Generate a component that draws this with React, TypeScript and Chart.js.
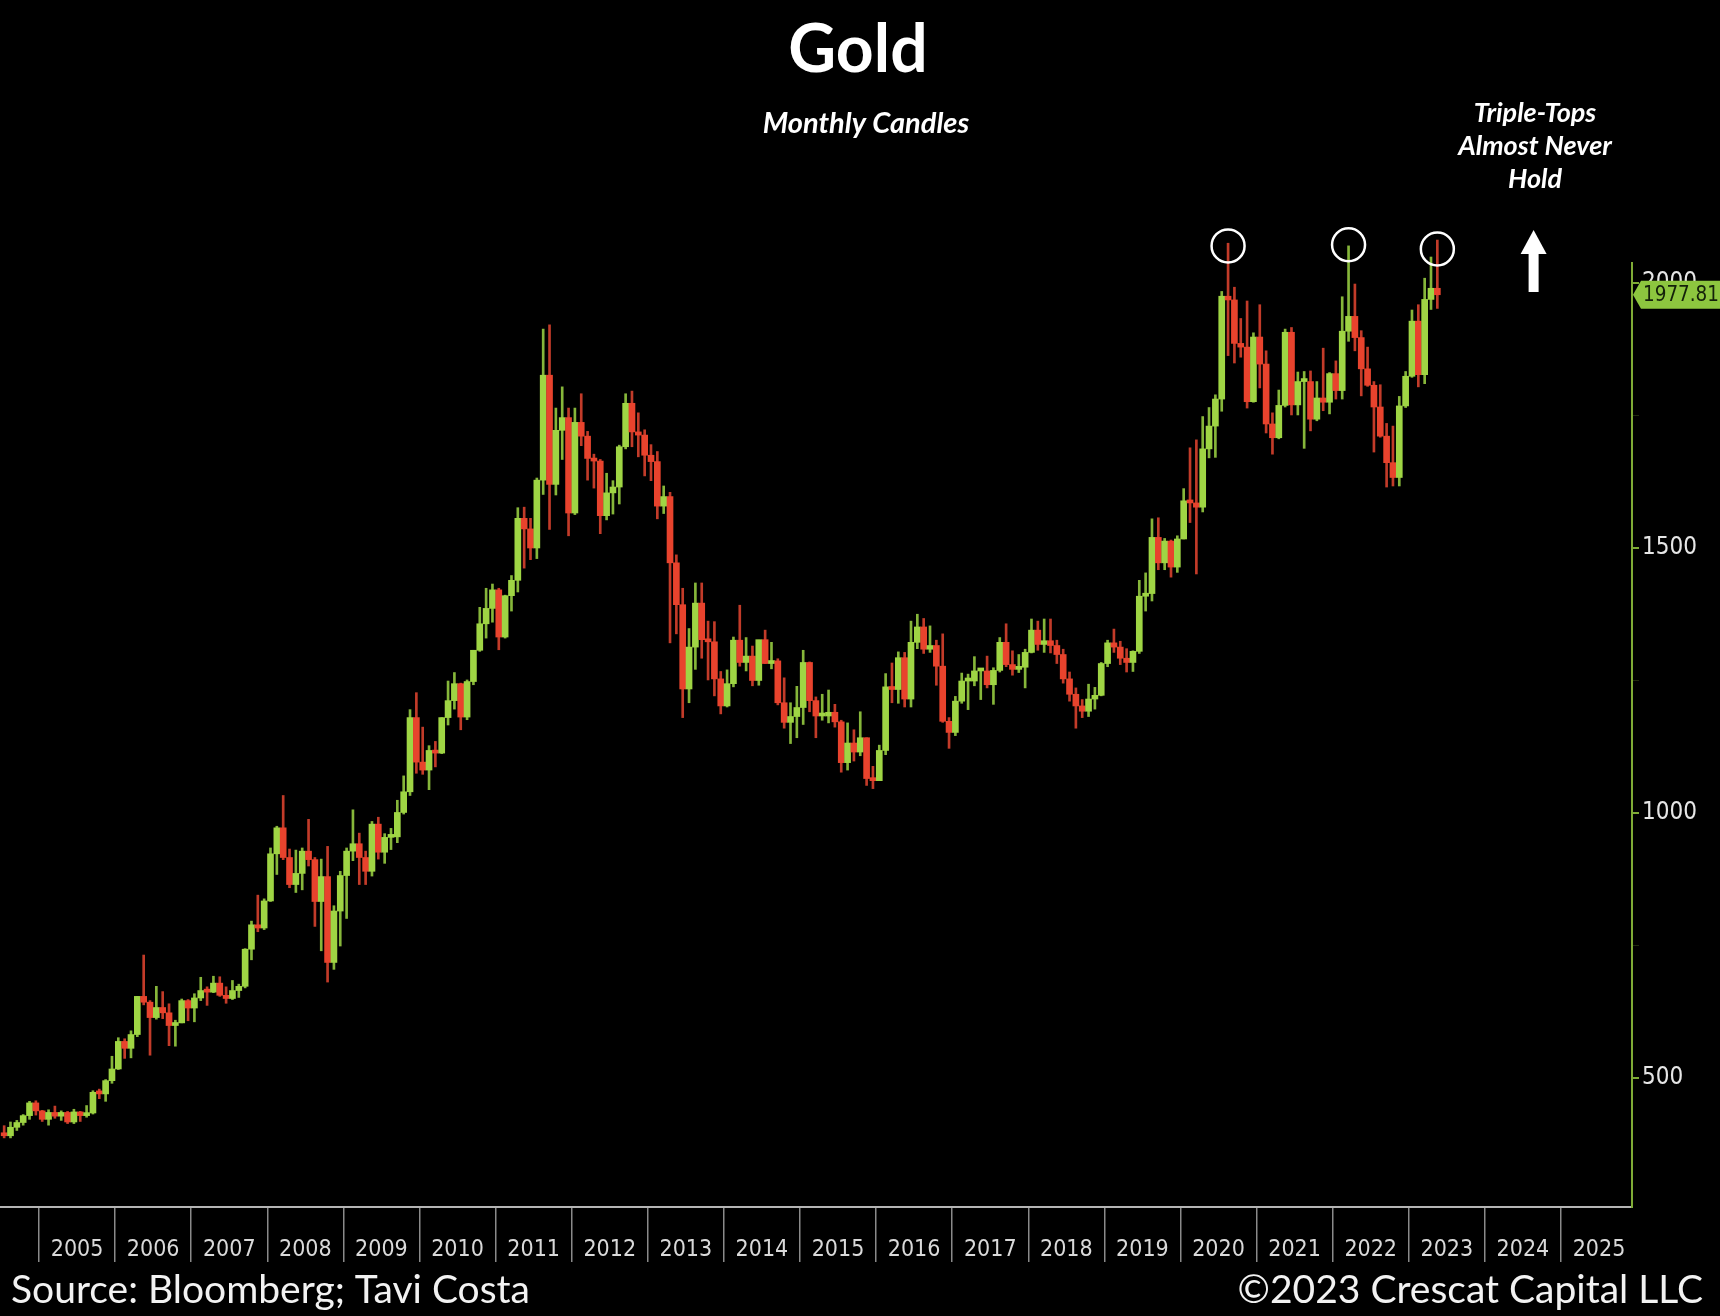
// Gold monthly candles with chart.js
import { useEffect, useRef } from 'react';
import { Chart, registerables } from 'chart.js';

Chart.register(...registerables);

// ============= DATA =============
// monthly candles, Jul 2004 .. May 2023
const FIRST_YEAR = 2004;
const FIRST_MONTH = 7;

const opens = [
    395, 391, 407, 416, 429, 453,
    438, 422, 435, 428, 435, 417, 436, 429, 434, 473, 470, 495,
    517, 569, 556, 582, 654, 643, 614, 633, 623, 599, 604, 646,
    632, 651, 665, 662, 679, 656, 650, 665, 673, 743, 789, 783,
    834, 923, 972, 916, 865, 886, 928, 912, 833, 880, 718, 815,
    882, 928, 942, 916, 890, 979, 926, 954, 955, 1001, 1040, 1180,
    1096, 1081, 1118, 1113, 1180, 1212, 1244, 1181, 1248, 1307, 1357, 1386,
    1421, 1332, 1410, 1439, 1556, 1536, 1500, 1628, 1826, 1620, 1722, 1746,
    1566, 1737, 1711, 1669, 1664, 1561, 1604, 1615, 1691, 1773, 1719, 1713,
    1675, 1663, 1579, 1597, 1472, 1393, 1234, 1313, 1396, 1327, 1323, 1253,
    1202, 1244, 1326, 1284, 1296, 1250, 1327, 1282, 1287, 1208, 1171, 1182,
    1199, 1284, 1212, 1183, 1183, 1190, 1172, 1095, 1132, 1115, 1142, 1065,
    1061, 1118, 1238, 1233, 1293, 1215, 1322, 1351, 1309, 1316, 1277, 1173,
    1152, 1211, 1249, 1249, 1268, 1268, 1242, 1269, 1322, 1280, 1271, 1275,
    1303, 1345, 1318, 1325, 1316, 1299, 1253, 1224, 1202, 1192, 1215, 1222,
    1282, 1321, 1313, 1292, 1284, 1305, 1409, 1414, 1520, 1472, 1513, 1464,
    1517, 1589, 1585, 1577, 1687, 1730, 1781, 1975, 1968, 1886, 1879, 1776,
    1898, 1847, 1734, 1708, 1769, 1907, 1770, 1814, 1814, 1743, 1783, 1775,
    1829, 1797, 1909, 1937, 1897, 1838, 1807, 1766, 1711, 1661, 1633, 1768,
    1824, 1928, 1827, 1969, 1990,
];

const highs = [
    410, 417, 420, 431, 456, 457,
    439, 440, 447, 438, 437, 441, 437, 448, 476, 479, 497, 541,
    576, 574, 589, 654, 732, 646, 673, 663, 640, 609, 649, 648,
    659, 690, 672, 692, 691, 672, 684, 677, 744, 796, 845, 838,
    934, 975, 1033, 932, 930, 934, 988, 916, 913, 937, 825, 890,
    934, 1006, 962, 928, 984, 992, 961, 971, 1024, 1070, 1195, 1227,
    1162, 1127, 1135, 1180, 1249, 1265, 1245, 1251, 1307, 1388, 1424, 1432,
    1424, 1411, 1448, 1576, 1577, 1556, 1632, 1913, 1921, 1764, 1804, 1764,
    1764, 1791, 1720, 1677, 1667, 1641, 1627, 1694, 1791, 1796, 1755, 1723,
    1695, 1682, 1617, 1605, 1487, 1424, 1348, 1434, 1434, 1362, 1361, 1267,
    1270, 1332, 1392, 1331, 1315, 1326, 1345, 1322, 1291, 1255, 1208, 1239,
    1307, 1285, 1219, 1224, 1232, 1205, 1175, 1170, 1157, 1191, 1142, 1088,
    1128, 1263, 1283, 1304, 1303, 1362, 1375, 1367, 1353, 1326, 1338, 1180,
    1220, 1264, 1262, 1295, 1270, 1296, 1274, 1331, 1357, 1306, 1299, 1309,
    1366, 1362, 1366, 1366, 1326, 1309, 1266, 1236, 1214, 1243, 1237, 1284,
    1326, 1347, 1324, 1310, 1306, 1439, 1453, 1555, 1557, 1518, 1515, 1523,
    1612, 1689, 1704, 1748, 1765, 1789, 1984, 2075, 1992, 1933, 1966, 1906,
    1959, 1872, 1755, 1798, 1913, 1916, 1832, 1833, 1834, 1814, 1877, 1831,
    1853, 1974, 2070, 1998, 1910, 1879, 1814, 1808, 1735, 1730, 1786, 1833,
    1949, 1959, 2009, 2049, 2081,
];

const lows = [
    387, 387, 401, 411, 422, 430,
    418, 411, 424, 420, 414, 414, 418, 426, 432, 461, 456, 490,
    516, 537, 538, 578, 638, 543, 611, 612, 561, 560, 604, 608,
    606, 646, 637, 661, 654, 641, 648, 652, 670, 723, 776, 780,
    833, 884, 912, 859, 850, 855, 900, 786, 740, 681, 705, 749,
    801, 910, 865, 865, 881, 913, 905, 931, 944, 998, 1033, 1075,
    1073, 1044, 1087, 1112, 1166, 1196, 1157, 1176, 1242, 1305, 1330, 1360,
    1308, 1330, 1381, 1417, 1462, 1478, 1480, 1601, 1535, 1600, 1667, 1523,
    1563, 1693, 1628, 1613, 1527, 1553, 1564, 1583, 1687, 1691, 1672, 1636,
    1627, 1555, 1565, 1321, 1338, 1180, 1208, 1271, 1292, 1251, 1221, 1187,
    1200, 1238, 1277, 1268, 1240, 1241, 1282, 1272, 1204, 1160, 1131, 1142,
    1167, 1191, 1142, 1175, 1170, 1162, 1077, 1081, 1098, 1108, 1052, 1046,
    1061, 1110, 1208, 1207, 1200, 1200, 1310, 1301, 1303, 1241, 1171, 1122,
    1146, 1207, 1195, 1240, 1214, 1236, 1205, 1266, 1276, 1260, 1265, 1236,
    1302, 1307, 1303, 1302, 1282, 1245, 1211, 1160, 1180, 1182, 1196, 1221,
    1276, 1303, 1280, 1266, 1267, 1301, 1381, 1400, 1459, 1459, 1445, 1454,
    1517, 1548, 1451, 1568, 1670, 1671, 1758, 1863, 1849, 1860, 1764, 1775,
    1802, 1717, 1677, 1706, 1766, 1751, 1751, 1688, 1721, 1740, 1759, 1753,
    1781, 1781, 1890, 1872, 1787, 1805, 1681, 1709, 1615, 1617, 1617, 1765,
    1822, 1804, 1810, 1950, 1952,
];

const closes = [
    391, 407, 416, 429, 453, 438,
    422, 435, 428, 435, 417, 436, 429, 434, 473, 470, 495, 517,
    569, 556, 582, 654, 643, 614, 633, 623, 599, 604, 646, 632,
    651, 665, 662, 679, 656, 650, 665, 673, 743, 789, 783, 834,
    923, 972, 916, 865, 886, 928, 912, 833, 880, 718, 815, 882,
    928, 942, 916, 890, 979, 926, 954, 955, 1001, 1040, 1180, 1096,
    1081, 1118, 1113, 1180, 1212, 1244, 1181, 1248, 1307, 1357, 1386, 1421,
    1332, 1410, 1439, 1556, 1536, 1500, 1628, 1826, 1620, 1722, 1746, 1566,
    1737, 1711, 1669, 1664, 1561, 1604, 1615, 1691, 1773, 1719, 1713, 1675,
    1663, 1579, 1597, 1472, 1393, 1234, 1313, 1396, 1327, 1323, 1253, 1202,
    1244, 1326, 1284, 1296, 1250, 1327, 1282, 1287, 1208, 1171, 1182, 1199,
    1284, 1212, 1183, 1183, 1190, 1172, 1095, 1132, 1115, 1142, 1065, 1061,
    1118, 1238, 1233, 1293, 1215, 1322, 1351, 1309, 1316, 1277, 1173, 1152,
    1211, 1249, 1249, 1268, 1268, 1242, 1269, 1322, 1280, 1271, 1275, 1303,
    1345, 1318, 1325, 1316, 1299, 1253, 1224, 1202, 1192, 1215, 1222, 1282,
    1321, 1313, 1292, 1284, 1305, 1409, 1414, 1520, 1472, 1513, 1464, 1517,
    1589, 1585, 1577, 1687, 1730, 1781, 1975, 1968, 1886, 1879, 1776, 1898,
    1847, 1734, 1708, 1769, 1907, 1770, 1814, 1814, 1743, 1783, 1775, 1829,
    1797, 1909, 1937, 1897, 1838, 1807, 1766, 1711, 1661, 1633, 1768, 1824,
    1928, 1827, 1969, 1990, 1977.81,
];

const yearTicks = [2005, 2006, 2007, 2008, 2009, 2010, 2011, 2012, 2013, 2014, 2015,
    2016, 2017, 2018, 2019, 2020, 2021, 2022, 2023, 2024, 2025];
const yearLabels = ['2005', '2006', '2007', '2008', '2009', '2010', '2011', '2012', '2013', '2014', '2015',
    '2016', '2017', '2018', '2019', '2020', '2021', '2022', '2023', '2024', '2025'];
const priceTicks = [500, 750, 1000, 1250, 1500, 1750, 2000];
const priceLabels = ['500', '', '1000', '', '1500', '', '2000'];

// the three circled tops: candle index + level of circle centre
const topIndexes = [193, 212, 226];
const topLevels = [2070, 2072, 2064];

const LAST_PRICE = '1977.81';

// ============= COLOURS / FONTS =============
const UP = '#9fd544';
const DOWN = '#e8432d';
const UP_WICK = '#86b63a';
const DOWN_WICK = '#c23b29';
const AXIS_GREEN = '#7fab36';
const SANS = 'Lato, "Open Sans", sans-serif';
const AXIS_FONT = '"Liberation Sans Narrow", "DejaVu Sans Condensed", Roboto, sans-serif';

const candleX = closes.map((_, i) => FIRST_YEAR + (FIRST_MONTH - 1 + i + 0.5) / 12);
const isUp = closes.map((c, i) => c >= opens[i]);

// ============= OVERLAY PLUGIN =============
const overlay = {
    id: 'goldOverlay',
    afterDraw(chart: any) {
        const { ctx, scales } = chart;
        const xs = scales.x;
        const ys = scales.y;
        ctx.save();

        // title + subtitle
        ctx.fillStyle = '#ffffff';
        ctx.textAlign = 'center';
        ctx.textBaseline = 'alphabetic';
        ctx.font = `bold 66px ${SANS}`;
        ctx.fillText('Gold', 858, 72);
        ctx.font = `italic bold 29px ${SANS}`;
        ctx.fillText('Monthly Candles', 866, 133);

        // note
        ctx.font = `italic bold 27px ${SANS}`;
        ctx.fillText('Triple-Tops', 1535, 122);
        ctx.fillText('Almost Never', 1535, 155);
        ctx.fillText('Hold', 1535, 188);

        // arrow
        const ax = xs.getPixelForValue(2024.64);
        const aTop = ys.getPixelForValue(2100);
        const aBot = ys.getPixelForValue(1983);
        ctx.fillRect(ax - 5, aTop + 22, 10, aBot - aTop - 22);
        ctx.beginPath();
        ctx.moveTo(ax, aTop);
        ctx.lineTo(ax + 13, aTop + 24);
        ctx.lineTo(ax - 13, aTop + 24);
        ctx.closePath();
        ctx.fill();

        // circles
        ctx.strokeStyle = '#ffffff';
        ctx.lineWidth = 2.5;
        topIndexes.forEach((idx, k) => {
            const cx = xs.getPixelForValue(candleX[idx]);
            const cy = ys.getPixelForValue(topLevels[k]);
            ctx.beginPath();
            ctx.arc(cx, cy, 16.5, 0, Math.PI * 2);
            ctx.stroke();
        });

        // last price tag
        const py = ys.getPixelForValue(closes[closes.length - 1]);
        const left = chart.chartArea.right;
        ctx.fillStyle = '#8dc63f';
        ctx.beginPath();
        ctx.moveTo(left + 1, py);
        ctx.lineTo(left + 9, py - 14);
        ctx.lineTo(1720, py - 14);
        ctx.lineTo(1720, py + 14);
        ctx.lineTo(left + 9, py + 14);
        ctx.closePath();
        ctx.fill();
        ctx.fillStyle = '#14210a';
        ctx.font = `22px ${AXIS_FONT}`;
        ctx.textAlign = 'left';
        ctx.textBaseline = 'middle';
        const tw = ctx.measureText(LAST_PRICE).width;
        const room = 1720 - (left + 11) - 1;
        ctx.save();
        ctx.translate(left + 11, py + 1);
        if (tw > room) ctx.scale(room / tw, 1);
        ctx.fillText(LAST_PRICE, 0, 0);
        ctx.restore();

        // footer
        ctx.fillStyle = '#f2f2f2';
        ctx.textBaseline = 'alphabetic';
        ctx.font = `39px ${SANS}`;
        ctx.textAlign = 'left';
        ctx.fillText('Source: Bloomberg; Tavi Costa', 11, 1303);
        ctx.textAlign = 'right';
        ctx.fillText('\u00A92023 Crescat Capital LLC', 1703, 1303);

        ctx.restore();
    },
};

// ============= CHART COMPONENT =============
const GoldChart = () => {
    const chartRef = useRef<HTMLCanvasElement>(null);
    const chartInstance = useRef<Chart | null>(null);

    useEffect(() => {
        if (!chartRef.current) return;
        if (chartInstance.current) {
            chartInstance.current.destroy();
        }
        const ctx = chartRef.current.getContext('2d');
        if (!ctx) return;

        chartInstance.current = new Chart(ctx, {
            type: 'bar',
            data: {
                datasets: [
                    {
                        // bodies (drawn on top)
                        data: candleX.map((x, i) => ({ x, y: [opens[i], closes[i]] })) as any,
                        backgroundColor: isUp.map(u => (u ? UP : DOWN)),
                        barThickness: 6,
                        minBarLength: 3,
                        grouped: false,
                        borderWidth: 0,
                        clip: false as any,
                    },
                    {
                        // wicks
                        data: candleX.map((x, i) => ({ x, y: [lows[i], highs[i]] })) as any,
                        backgroundColor: isUp.map(u => (u ? UP_WICK : DOWN_WICK)),
                        barThickness: 2,
                        grouped: false,
                        borderWidth: 0,
                        clip: false as any,
                    },
                ],
            },
            options: {
                animation: false,
                responsive: true,
                maintainAspectRatio: false,
                layout: { padding: { top: 263, left: 0, right: 0, bottom: 0 } },
                plugins: {
                    legend: { display: false },
                    tooltip: { enabled: false },
                },
                scales: {
                    x: {
                        type: 'linear',
                        min: 2004.487,
                        max: 2025.933,
                        offset: false,
                        afterBuildTicks: (s: any) => {
                            s.ticks = yearTicks.map(v => ({ value: v }));
                        },
                        afterFit: (s: any) => {
                            s.height = 109;
                        },
                        ticks: {
                            autoSkip: false,
                            maxRotation: 0,
                            labelOffset: 38,
                            padding: -26,
                            color: '#d9d9d9',
                            font: { family: AXIS_FONT, size: 23 },
                            callback: (_v: any, i: number) => yearLabels[i],
                        },
                        grid: {
                            offset: false,
                            drawOnChartArea: false,
                            drawTicks: true,
                            tickLength: 55,
                            color: '#8a8a8a',
                            lineWidth: 1.5,
                        },
                        border: { color: '#b4b4b4', width: 2 },
                    },
                    y: {
                        type: 'linear',
                        position: 'right',
                        min: 256.6,
                        max: 2037.7,
                        afterBuildTicks: (s: any) => {
                            s.ticks = priceTicks.map(v => ({ value: v }));
                        },
                        afterFit: (s: any) => {
                            s.width = 88;
                        },
                        ticks: {
                            autoSkip: false,
                            padding: 3,
                            color: '#e6e6e6',
                            font: { family: AXIS_FONT, size: 24 },
                            callback: (_v: any, i: number) => priceLabels[i],
                        },
                        grid: {
                            drawOnChartArea: false,
                            drawTicks: true,
                            tickLength: 7,
                            color: (c: any) => (c.tick && c.tick.value % 500 === 0 ? AXIS_GREEN : 'rgba(127,171,54,0.25)'),
                            lineWidth: (c: any) => (c.tick && c.tick.value % 500 === 0 ? 2 : 1),
                        },
                        border: { color: AXIS_GREEN, width: 2 },
                    },
                },
            },
            plugins: [overlay],
        });

        return () => {
            if (chartInstance.current) {
                chartInstance.current.destroy();
                chartInstance.current = null;
            }
        };
    }, []);

    return (
        <div style={{ position: 'fixed', left: 0, top: 0, width: 1720, height: 1316, background: '#000' }}>
            <canvas ref={chartRef}></canvas>
        </div>
    );
};

export default function App() {
    return <GoldChart />;
}
